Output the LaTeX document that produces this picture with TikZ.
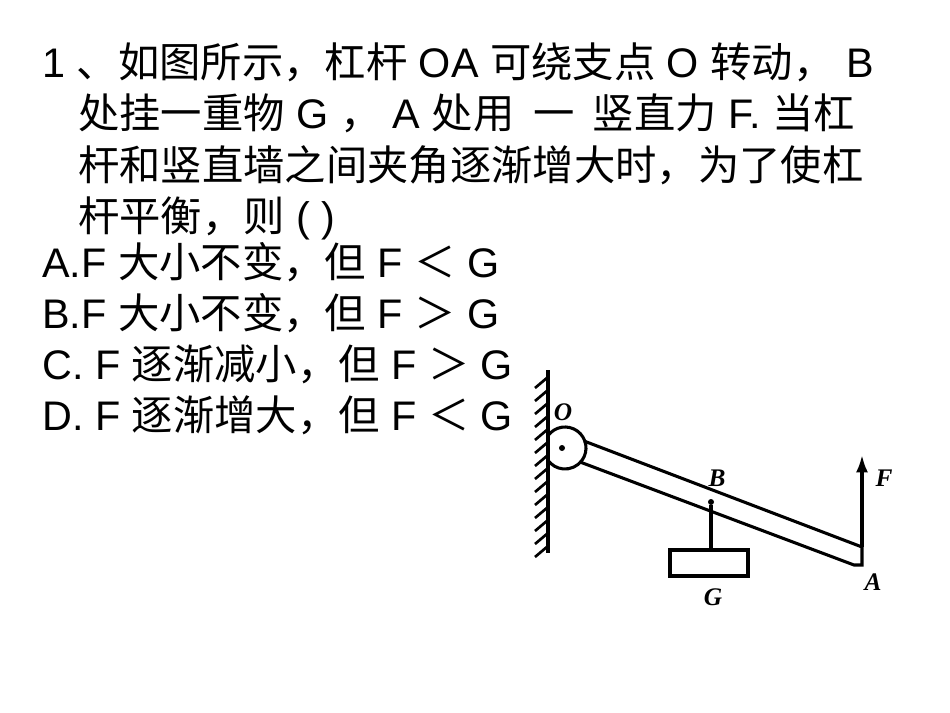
\documentclass[tikz,border=0pt]{standalone}
\usepackage{fontspec}
\usetikzlibrary{arrows.meta}
\setmainfont{Liberation Sans}
\newfontfamily\cjk{Noto Sans CJK SC}
\newfontfamily\lbl{Liberation Serif}
\begin{document}
\begin{tikzpicture}[x=0.75pt,y=-0.75pt,
  txt/.style={anchor=base west,inner sep=0pt,font=\fontsize{31}{31}\selectfont},
  lab/.style={inner sep=0pt,font=\lbl\bfseries\itshape\fontsize{19}{19}\selectfont},
  ln/.style={line width=2.3pt}]
\useasboundingbox[fill=white] (0,0) rectangle (950,713);
\node[txt] (l1) at (42,78) {1 {\cjk 、如图所示，杠杆} OA {\cjk 可绕支点} O {\cjk 转动，} B};
\node[txt] (l2) at (78,129) {{\cjk 处挂一重物} G {\cjk ，} A {\cjk 处用\ \ 一\ \ 竖直力} F. {\cjk 当杠}};
\node[txt] (l3) at (78,181) {{\cjk 杆和竖直墙之间夹角逐渐增大时，为了使杠}};
\node[txt] (l4) at (78,232) {{\cjk 杆平衡，则} ( )};
\node[txt] (a) at (42,277) {A.F {\cjk 大小不变，但} F {\cjk ＜} G};
\node[txt] (b) at (42,328) {B.F {\cjk 大小不变，但} F {\cjk ＞} G};
\node[txt] (c) at (42,379) {C. F {\cjk 逐渐减小，但} F {\cjk ＞} G};
\node[txt] (d) at (42,430) {D. F {\cjk 逐渐增大，但} F {\cjk ＜} G};
% wall
\draw[ln] (548,370) -- (548,553);
\foreach \y in {377,390,...,550} \draw[line width=2pt] (548,\y) -- (535,\y+11);
% pivot
\coordinate (P) at (565,448);
\draw[ln] (P) ++(-144:21) arc[start angle=-144,end angle=144,radius=21];
\fill (P) ++(-3,0) circle (3);
% bar
\coordinate (T1) at (584,441); \coordinate (T2) at (862,547);
\coordinate (B1) at (580,462); \coordinate (B2) at (854,565);
\coordinate (A) at (862,565);
\draw[ln] (T1) -- (T2) -- (A) -- (B2) -- (B1);
\draw[ln,-{Latex[length=13pt,width=9pt]}] (T2) -- (862,455);
% weight
\fill (711,502) circle (3);
\draw[ln] (711,505) -- (711,550);
\draw[ln] (670,550) rectangle (748,576);
\node[lab] (O) at (563,412) {O};
\node[lab] (Bl) at (717,478) {B};
\node[lab] (F) at (884,478) {F};
\node[lab] (G) at (713,597) {G};
\node[lab] (Al) at (873,582) {A};
\end{tikzpicture}
\end{document}
